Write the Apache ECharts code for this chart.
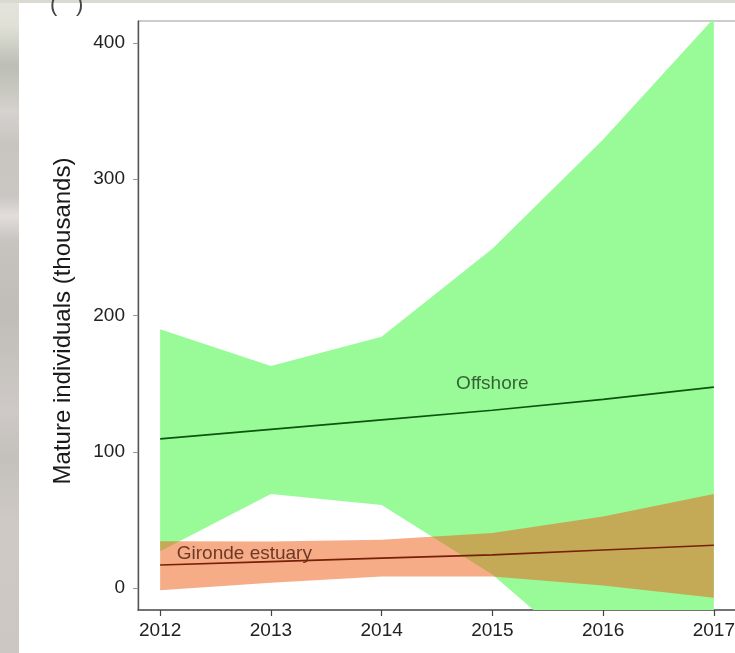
<!DOCTYPE html>
<html>
<head>
<meta charset="utf-8">
<script src="https://cdn.jsdelivr.net/npm/echarts@6/dist/echarts.min.js"></script>
<style>
  html, body { margin: 0; padding: 0; background: #ffffff; }
  #chart { width: 735px; height: 653px; }
</style>
</head>
<body>
<div id="chart"></div>
<script>
// Estimated numbers of mature individuals (thousands) per year, with 95% bands
const years = [2012, 2013, 2014, 2015, 2016, 2017];

const offshoreMedian = [109.5, 116.5, 123.5, 130.5, 138.5, 147.5];
const offshoreLower  = [27, 69, 61, 10, -60, -120];
const offshoreUpper  = [190, 163, 184.5, 249, 329, 418];

const girondeMedian = [17, 19.5, 22, 24.5, 28, 31.5];
const girondeLower  = [-1.5, 4, 8.5, 8.5, 2, -7];
const girondeUpper  = [34.5, 34.2, 35.5, 40.5, 52.5, 69];

const xTicks = [2012, 2013, 2014, 2015, 2016, 2017];
const yTicks = [0, 100, 200, 300, 400];

const FONT = '"Liberation Sans", Arial, Helvetica, sans-serif';

// One filled polygon between the lower and upper bounds, clipped to the plot area
function band(id, lower, upper, fill) {
  return {
    type: 'custom', name: id, silent: true, clip: true,
    data: years.map((y, i) => [y, lower[i], upper[i]]),
    encode: { x: 0, y: [1, 2] },
    renderItem(params, api) {
      if (params.dataIndex !== 0) return null;
      const top = years.map((y, i) => api.coord([y, upper[i]]));
      const bottom = years.map((y, i) => api.coord([y, lower[i]])).reverse();
      return {
        type: 'polygon',
        shape: { points: top.concat(bottom) },
        style: { fill, stroke: null }
      };
    }
  };
}

function medianLine(name, values, color) {
  return {
    type: 'line', name, data: years.map((y, i) => [y, values[i]]),
    symbol: 'none', silent: true, clip: true,
    lineStyle: { color, width: 1.7 }
  };
}

function textMark(text, x, y, color, position) {
  return {
    type: 'scatter', silent: true, symbolSize: 0,
    data: [{ name: text, value: [x, y] }],
    label: {
      show: true, position, distance: 0, formatter: '{b}',
      color, fontSize: 19, fontFamily: FONT
    }
  };
}

const yearLabel = v => String(v);

const chart = echarts.init(document.getElementById('chart'), null, { renderer: 'canvas' });

chart.setOption({
  backgroundColor: '#ffffff',
  animation: false,
  grid: {
    left: 138, top: 21, width: 598, height: 589,
    outerBoundsMode: 'none', containLabel: false,
    show: true, borderColor: '#9a9a9a', borderWidth: 1, backgroundColor: 'transparent'
  },
  xAxis: {
    type: 'value', min: 2011.8, max: 2017.2,
    splitLine: { show: false },
    axisLine: { show: true, onZero: false, lineStyle: { color: '#555', width: 1.6 } },
    axisTick: { show: true, customValues: xTicks, length: 6, lineStyle: { color: '#444', width: 1.2 } },
    axisLabel: { customValues: xTicks, formatter: yearLabel, margin: 11, fontSize: 19, color: '#222', fontFamily: FONT }
  },
  yAxis: {
    type: 'value', min: -16, max: 416,
    splitLine: { show: false },
    axisLine: { show: true, onZero: false, lineStyle: { color: '#555', width: 1.4 } },
    axisTick: { show: true, customValues: yTicks, length: 5, lineStyle: { color: '#999', width: 1 } },
    axisLabel: { customValues: yTicks, margin: 13, fontSize: 19, color: '#222', fontFamily: FONT }
  },
  graphic: [
    {
      type: 'rect', z: -10, silent: true,
      shape: { x: 0, y: 0, width: 19, height: 653 },
      style: {
        fill: new echarts.graphic.LinearGradient(0, 0, 0, 1, [
          { offset: 0.00, color: 'rgb(228,228,218)' },
          { offset: 0.04, color: 'rgb(224,224,214)' },
          { offset: 0.10, color: 'rgb(188,191,181)' },
          { offset: 0.14, color: 'rgb(200,200,193)' },
          { offset: 0.17, color: 'rgb(214,210,207)' },
          { offset: 0.22, color: 'rgb(200,197,193)' },
          { offset: 0.30, color: 'rgb(202,198,194)' },
          { offset: 0.33, color: 'rgb(226,221,219)' },
          { offset: 0.37, color: 'rgb(199,196,192)' },
          { offset: 0.48, color: 'rgb(192,189,185)' },
          { offset: 0.55, color: 'rgb(198,194,190)' },
          { offset: 0.63, color: 'rgb(206,201,198)' },
          { offset: 0.70, color: 'rgb(196,192,188)' },
          { offset: 0.80, color: 'rgb(206,201,197)' },
          { offset: 1.00, color: 'rgb(204,199,195)' }
        ])
      }
    },
    {
      type: 'rect', z: -10, silent: true,
      shape: { x: 0, y: 0, width: 735, height: 3 },
      style: { fill: 'rgb(218,218,210)' }
    },
    {
      type: 'text', silent: true, x: 50, y: 16,
      style: { text: '(', font: '22px ' + FONT, fill: '#444', textAlign: 'left', textVerticalAlign: 'bottom' }
    },
    {
      type: 'text', silent: true, x: 76, y: 16,
      style: { text: ')', font: '22px ' + FONT, fill: '#444', textAlign: 'left', textVerticalAlign: 'bottom' }
    },
    {
      type: 'text', silent: true, x: 63, y: 321, rotation: Math.PI / 2,
      style: {
        text: 'Mature individuals (thousands)', font: '24px ' + FONT, fill: '#1a1a1a',
        textAlign: 'center', textVerticalAlign: 'middle'
      }
    }
  ],
  series: [
    band('offshore', offshoreLower, offshoreUpper, 'rgb(152,251,152)'),
    band('gironde', girondeLower, girondeUpper, 'rgba(235,95,25,0.52)'),
    medianLine('Offshore', offshoreMedian, '#0b550f'),
    medianLine('Gironde estuary', girondeMedian, '#762008'),
    textMark('Offshore', 2015, 150, '#1c3a1c', 'inside'),
    textMark('Gironde estuary', 2012.15, 25.6, '#4a1a0c', 'right')
  ]
});
</script>
</body>
</html>
